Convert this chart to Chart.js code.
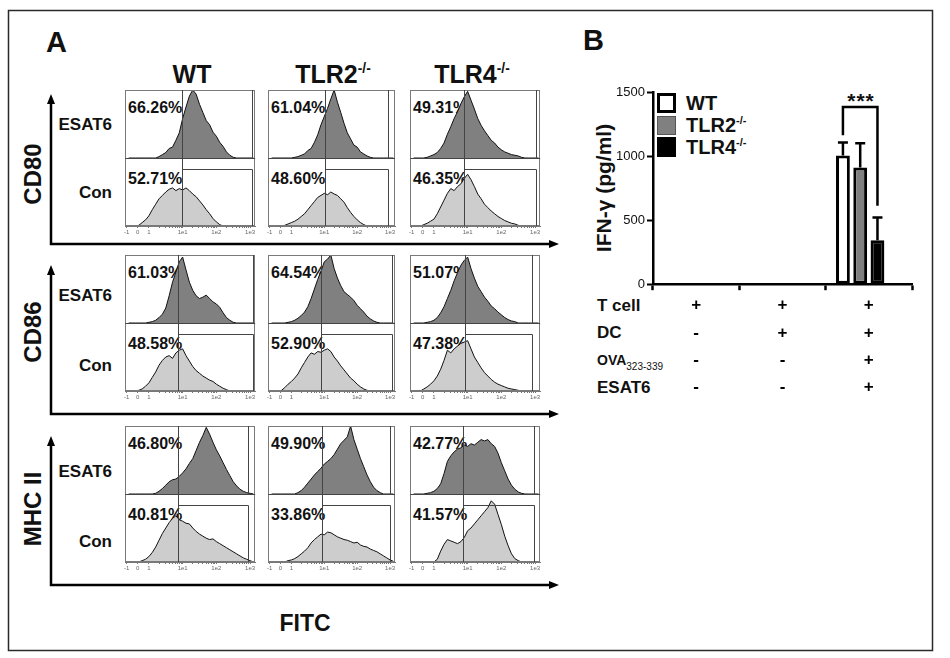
<!DOCTYPE html>
<html lang="en">
<head>
<meta charset="UTF-8">
<title>ESAT6 - DC markers and IFN-γ</title>
<script src="https://cdn.jsdelivr.net/npm/chart.js@4"></script>
<style>
  html, body { margin: 0; padding: 0; background: #fff; }
  body { width: 950px; height: 658px; position: relative; overflow: hidden; font-family: "Liberation Sans", Arial, Helvetica, sans-serif; color: #111; }
  .t { position: absolute; white-space: nowrap; font-weight: bold; line-height: 1; }
  .c { transform: translate(-50%, -50%); }
  .r { transform: translate(-100%, -50%); }
  .l { transform: translate(0, -50%); }
  .rot { transform: translate(-50%, -50%) rotate(-90deg); }
  .sup { font-size: 0.55em; position: relative; top: -0.75em; }
  .sub { font-size: 10px; font-weight: normal; position: relative; top: 0.45em; }
  canvas { position: absolute; }
  .box { position: absolute; box-sizing: border-box; }
  svg { position: absolute; left: 0; top: 0; }
</style>
</head>
<body>
<svg width="950" height="658">
  <rect x="8.5" y="10.5" width="924" height="640" fill="none" stroke="#2a2a2a" stroke-width="1.5"/>
  <g stroke="#000" stroke-width="2.5" fill="none">
    <polyline points="51,100 51,244 552,244"/>
    <polyline points="51,271 51,414 552,414"/>
    <polyline points="51,442 51,585 552,585"/>
  </g>
  <g fill="#000">
    <polygon points="51,94 47,104 55,104"/>
    <polygon points="559,244 549,240 549,248"/>
    <polygon points="51,265 47,275 55,275"/>
    <polygon points="559,414 549,410 549,418"/>
    <polygon points="51,436 47,446 55,446"/>
    <polygon points="559,585 549,581 549,589"/>
  </g>
</svg>

<!-- panel A text -->
<div class="t" style="left:46px; top:28px; font-size:29px;">A</div>
<div class="t c" style="left:192px; top:74px; font-size:25px;">WT</div>
<div class="t c" style="left:333px; top:74px; font-size:25px;">TLR2<span class="sup">-/-</span></div>
<div class="t c" style="left:472px; top:74px; font-size:25px;">TLR4<span class="sup">-/-</span></div>
<div class="t rot" style="left:33px; top:174px; font-size:24px;">CD80</div>
<div class="t rot" style="left:33px; top:332px; font-size:24px;">CD86</div>
<div class="t rot" style="left:33px; top:509px; font-size:24px;">MHC II</div>
<div class="t r" style="left:112px; top:124px; font-size:17px;">ESAT6</div>
<div class="t r" style="left:112px; top:192px; font-size:17px;">Con</div>
<div class="t r" style="left:112px; top:295px; font-size:17px;">ESAT6</div>
<div class="t r" style="left:112px; top:365px; font-size:17px;">Con</div>
<div class="t r" style="left:112px; top:471px; font-size:17px;">ESAT6</div>
<div class="t r" style="left:112px; top:541px; font-size:17px;">Con</div>
<div class="t c" style="left:305px; top:623px; font-size:23px;">FITC</div>
<div id="pct"></div>

<!-- panel B text -->
<div class="t" style="left:583px; top:26px; font-size:29px;">B</div>
<div class="t rot" style="left:603px; top:188px; font-size:21px;">IFN-γ (pg/ml)</div>
<div class="box" style="left:657px; top:93px; width:19px; height:20px; background:#fff; border:3px solid #000;"></div>
<div class="box" style="left:657px; top:116px; width:19px; height:19px; background:#808080; border:1px solid #555;"></div>
<div class="box" style="left:657px; top:137px; width:19px; height:20px; background:#000;"></div>
<div class="t l" style="left:686px; top:103px; font-size:20px;">WT</div>
<div class="t l" style="left:686px; top:125px; font-size:20px;">TLR2<span class="sup">-/-</span></div>
<div class="t l" style="left:686px; top:147px; font-size:20px;">TLR4<span class="sup">-/-</span></div>
<div class="t c" style="left:861px; top:100px; font-size:21px; letter-spacing:1px;">***</div>
<div class="t l" style="left:597px; top:305px; font-size:17px;">T cell</div>
<div class="t l" style="left:597px; top:332px; font-size:17px;">DC</div>
<div class="t l" style="left:597px; top:360px; font-size:14px;">OVA<span class="sub">323-339</span></div>
<div class="t l" style="left:597px; top:387px; font-size:17px;">ESAT6</div>

<canvas id="c0"></canvas><canvas id="c1"></canvas><canvas id="c2"></canvas>
<canvas id="c3"></canvas><canvas id="c4"></canvas><canvas id="c5"></canvas>
<canvas id="c6"></canvas><canvas id="c7"></canvas><canvas id="c8"></canvas>
<canvas id="bars"></canvas>

<script>
// FITC axis, in decades (0 = 1, 1 = 1e1 ...)
const fitcGrid = [-0.6, -0.5, -0.4, -0.3, -0.2, -0.1, 0, 0.1, 0.2, 0.3, 0.4, 0.5, 0.6, 0.7, 0.8, 0.9,
  1, 1.1, 1.2, 1.3, 1.4, 1.5, 1.6, 1.7, 1.8, 1.9, 2, 2.1, 2.2, 2.3, 2.4, 2.5, 2.6, 2.7, 2.8, 2.9, 3, 3.1];
const fitcMajor = [-0.66, -0.33, 0, 1, 2, 3];
const fitcMajorText = ['-1', '0', '1', '1e1', '1e2', '1e3'];

// histogram heights, % of the panel height
const cd80WtEsat   = [0,0,0,0,0,0,0,0,0,2,5,8,14,16,26,37,58,75,91,100,94,79,67,55,49,38,32,23,17,9,4,1,0,0,0,0,0,0];
const cd80WtCon    = [0,0,0,1,5,9,15,24,32,40,45,50,54,56,52,55,53,56,52,47,43,37,31,24,18,11,6,2,0,0,0,0,0,0,0,0,0,0];
const cd80Tlr2Esat = [0,0,0,0,0,0,0,1,2,4,6,11,14,23,34,49,61,73,87,100,82,67,51,37,28,19,16,9,6,3,1,0,0,0,0,0,0,0];
const cd80Tlr2Con  = [0,0,0,0,1,3,5,7,10,14,18,24,30,36,42,45,48,46,50,47,45,40,35,27,20,14,9,5,2,0,0,0,0,0,0,0,0,0];
const cd80Tlr4Esat = [0,0,0,0,1,3,5,8,14,22,35,46,58,68,80,90,98,85,72,58,48,40,33,26,22,16,12,9,7,5,4,3,1,0,0,0,0,0];
const cd80Tlr4Con  = [0,0,0,2,4,7,10,18,28,38,48,55,52,58,62,70,76,68,58,47,40,32,27,22,18,14,11,8,6,4,3,1,0,0,0,0,0,0];

const cd86WtEsat   = [0,0,0,0,0,0,1,2,4,8,13,22,40,60,75,90,97,78,60,48,40,36,38,41,36,31,28,23,15,8,4,1,0,0,0,0,0,0];
const cd86WtCon    = [0,0,0,1,3,7,12,20,28,38,45,50,52,48,56,60,62,52,44,36,30,26,22,19,16,14,10,7,4,2,0,0,0,0,0,0,0,0];
const cd86Tlr2Esat = [0,0,0,0,0,1,2,4,7,11,16,24,36,50,64,76,90,94,100,80,66,55,46,42,38,33,26,21,16,10,6,3,1,0,0,0,0,0];
const cd86Tlr2Con  = [0,0,0,1,5,10,14,19,25,34,42,50,56,54,58,57,60,62,58,50,44,37,31,25,19,15,10,6,3,1,0,0,0,0,0,0,0,0];
const cd86Tlr4Esat = [0,0,0,0,1,2,4,8,15,24,36,48,62,74,85,92,97,80,66,54,46,38,32,25,21,16,12,8,5,3,2,0,0,0,0,0,0,0];
const cd86Tlr4Con  = [0,0,0,3,6,10,15,22,32,45,60,56,62,66,70,72,74,62,50,42,34,27,22,17,13,10,8,6,4,3,2,1,0,0,0,0,0,0];

const mhcWtEsat    = [0,0,0,0,0,0,0,0,1,4,8,13,18,21,22,26,31,37,45,52,64,76,86,98,88,76,65,56,46,36,27,18,12,7,4,2,1,0];
const mhcWtCon     = [0,0,0,0,2,4,8,14,22,32,42,50,58,64,68,62,60,57,56,50,45,41,38,35,33,34,30,27,24,21,18,15,12,9,6,4,2,0];
const mhcTlr2Esat  = [0,0,0,0,0,0,0,0,2,5,10,16,22,28,33,38,44,48,52,58,66,74,79,84,100,80,66,52,40,28,18,10,5,2,0,0,0,0];
const mhcTlr2Con   = [0,0,0,0,0,2,3,5,8,12,16,21,28,33,37,41,40,44,43,40,37,35,33,32,30,28,29,25,23,22,19,17,15,12,9,6,3,1];
const mhcTlr4Esat  = [0,0,0,0,1,2,4,8,15,30,48,56,62,66,68,72,70,74,72,76,80,78,80,74,70,60,46,34,22,13,7,3,1,0,0,0,0,0];
const mhcTlr4Con   = [0,0,0,0,0,0,0,4,16,26,33,31,29,27,30,36,46,50,56,62,68,74,80,90,85,70,55,38,24,12,5,2,0,0,0,0,0,0];

const esatSeries = [cd80WtEsat, cd80Tlr2Esat, cd80Tlr4Esat, cd86WtEsat, cd86Tlr2Esat, cd86Tlr4Esat, mhcWtEsat, mhcTlr2Esat, mhcTlr4Esat];
const conSeries  = [cd80WtCon, cd80Tlr2Con, cd80Tlr4Con, cd86WtCon, cd86Tlr2Con, cd86Tlr4Con, mhcWtCon, mhcTlr2Con, mhcTlr4Con];
const pctEsat = ['66.26%', '61.04%', '49.31%', '61.03%', '64.54%', '51.07%', '46.80%', '49.90%', '42.77%'];
const pctCon  = ['52.71%', '48.60%', '46.35%', '48.58%', '52.90%', '47.38%', '40.81%', '33.86%', '41.57%'];
// gate markers (decades)
const gateLo = [0.99, 1.01, 0.89, 0.85, 0.89, 0.92, 0.85, 0.94, 0.87];
const gateHi = [3.07, 2.94, 3.02, 3.10, 3.05, 2.90, 2.95, 3.00, 2.97];

// panel B
const tCellRow = ['+', '+', '+'];
const dcRow    = ['-', '+', '+'];
const ovaRow   = ['-', '-', '+'];
const esatRow  = ['-', '-', '+'];
const wtIfn    = [null, null, 1005];
const tlr2Ifn  = [null, null, 910];
const tlr4Ifn  = [null, null, 343];
const wtErr    = [0, 0, 100];
const tlr2Err  = [0, 0, 190];
const tlr4Err  = [0, 0, 177];
const sigLevels = [1162, 1382, 613]; // WT end, bracket top, TLR4 end

// layout
const rowTop = [90, 255, 426];
const colLeft = [123, 266, 408];
const colWidth = [133, 130, 133];
const panelH = 68;

Chart.defaults.font.family = "'Liberation Sans', Arial, sans-serif";

const minorTicks = [];
[0, 1, 2].forEach((d) => {
  for (let m = 2; m <= 9; m++) minorTicks.push(d + Math.log10(m));
});
const allTicks = fitcMajor.concat(minorTicks).sort((a, b) => a - b);

const cellFrame = {
  id: 'cellFrame',
  afterDatasetsDraw(chart, args, opts) {
    const { ctx, chartArea: a, scales: { x, yCon } } = chart;
    const px = (v) => Math.round(x.getPixelForValue(v)) + 0.5;
    const py = (v) => Math.round(yCon.getPixelForValue(v)) + 0.5;
    const mid = py(100), mark = py(opts.mark);
    const lo = px(opts.lo), hi = px(opts.hi);
    ctx.save();
    ctx.lineWidth = 1;
    ctx.strokeStyle = '#7a7a7a';
    ctx.strokeRect(Math.round(a.left) + 0.5, Math.round(a.top) + 0.5, Math.round(a.width) - 1, Math.round(a.height) - 1);
    ctx.strokeStyle = '#444';
    ctx.beginPath();
    ctx.moveTo(a.left, mid); ctx.lineTo(a.right, mid);
    ctx.moveTo(lo, a.top); ctx.lineTo(lo, a.bottom);
    ctx.moveTo(hi, a.top); ctx.lineTo(hi, mid);
    ctx.moveTo(lo, mark); ctx.lineTo(hi, mark); ctx.lineTo(hi, a.bottom);
    ctx.stroke();
    ctx.restore();
  }
};

esatSeries.forEach((esat, i) => {
  const row = Math.floor(i / 3), col = i % 3;
  const cv = document.getElementById('c' + i);
  cv.width = colWidth[col];
  cv.height = panelH * 2 + 12;
  cv.style.left = colLeft[col] + 'px';
  cv.style.top = rowTop[row] + 'px';
  new Chart(cv, {
    type: 'line',
    data: {
      datasets: [
        {
          data: fitcGrid.map((u, k) => ({ x: u, y: esat[k] })),
          yAxisID: 'yEsat', fill: 'origin',
          backgroundColor: '#808080', borderColor: '#111', borderWidth: 1, pointRadius: 0, tension: 0
        },
        {
          data: fitcGrid.map((u, k) => ({ x: u, y: conSeries[i][k] })),
          yAxisID: 'yCon', fill: 'origin',
          backgroundColor: '#cdcdcd', borderColor: '#111', borderWidth: 1, pointRadius: 0, tension: 0
        }
      ]
    },
    options: {
      responsive: false, animation: false,
      layout: { padding: 0 },
      plugins: {
        legend: { display: false }, tooltip: { enabled: false },
        cellFrame: { lo: gateLo[i], hi: gateHi[i], mark: 84 }
      },
      scales: {
        x: {
          type: 'linear', min: -0.7, max: 3.15,
          afterBuildTicks: (s) => { s.ticks = allTicks.map((v) => ({ value: v })); },
          afterFit: (s) => { s.height = 12; },
          grid: { drawOnChartArea: false, tickLength: 2, color: '#777' },
          border: { display: true, color: '#777' },
          ticks: {
            autoSkip: false, maxRotation: 0, padding: 1, color: '#666',
            font: { size: 6 },
            callback: (v) => { const k = fitcMajor.indexOf(v); return k < 0 ? '' : fitcMajorText[k]; }
          }
        },
        yEsat: { type: 'linear', min: -100, max: 100, display: false },
        yCon: { type: 'linear', min: 0, max: 200, display: false }
      }
    },
    plugins: [cellFrame]
  });

  const pct = document.getElementById('pct');
  pct.insertAdjacentHTML('beforeend',
    `<div class="t l" style="left:${colLeft[col] + 5}px; top:${rowTop[row] + 18}px; font-size:16px;">${pctEsat[i]}</div>` +
    `<div class="t l" style="left:${colLeft[col] + 5}px; top:${rowTop[row] + panelH + 21}px; font-size:16px;">${pctCon[i]}</div>`);
});

// panel B bar chart
const errBars = {
  id: 'errBars',
  afterDatasetsDraw(chart) {
    const { ctx, scales: { y } } = chart;
    const errs = [wtErr, tlr2Err, tlr4Err];
    ctx.save();
    ctx.strokeStyle = '#000';
    ctx.lineWidth = 2.5;
    errs.forEach((e, d) => {
      chart.getDatasetMeta(d).data.forEach((bar, k) => {
        const v = chart.data.datasets[d].data[k];
        if (v == null) return;
        const top = y.getPixelForValue(v + e[k]);
        ctx.beginPath();
        ctx.moveTo(bar.x, bar.y); ctx.lineTo(bar.x, top);
        ctx.moveTo(bar.x - 5, top); ctx.lineTo(bar.x + 5, top);
        ctx.stroke();
      });
    });
    // significance bracket WT vs TLR4
    const left = chart.getDatasetMeta(0).data[2].x;
    const right = chart.getDatasetMeta(2).data[2].x;
    ctx.beginPath();
    ctx.moveTo(left, y.getPixelForValue(sigLevels[0]));
    ctx.lineTo(left, y.getPixelForValue(sigLevels[1]));
    ctx.lineTo(right, y.getPixelForValue(sigLevels[1]));
    ctx.lineTo(right, y.getPixelForValue(sigLevels[2]));
    ctx.stroke();
    ctx.restore();
  }
};

const barCv = document.getElementById('bars');
barCv.width = 310;
barCv.height = 323;
barCv.style.left = '608px';
barCv.style.top = '80px';
const barStyle = { borderColor: '#000', borderWidth: 3, borderSkipped: false, categoryPercentage: 0.8, barPercentage: 0.8 };
new Chart(barCv, {
  type: 'bar',
  data: {
    labels: tCellRow.map((t, k) => [t, dcRow[k], ovaRow[k], esatRow[k]]),
    datasets: [
      { label: 'WT', data: wtIfn, backgroundColor: '#fff', ...barStyle },
      { label: 'TLR2-/-', data: tlr2Ifn, backgroundColor: '#808080', ...barStyle },
      { label: 'TLR4-/-', data: tlr4Ifn, backgroundColor: '#000', ...barStyle },
      { label: '', data: [null, null, null], ...barStyle } // empty slot, keeps the group left of the tick
    ]
  },
  options: {
    responsive: false, animation: false,
    layout: { padding: { top: 12, right: 6, left: 0, bottom: 0 } },
    plugins: { legend: { display: false }, tooltip: { enabled: false } },
    scales: {
      x: {
        grid: { drawOnChartArea: false, tickLength: 6, tickWidth: 2.5, tickColor: '#000' },
        border: { color: '#000', width: 2.5 },
        ticks: { color: '#000', padding: 2, font: { size: 17, weight: 'bold', lineHeight: 1.6 } }
      },
      y: {
        min: 0, max: 1500,
        afterFit: (s) => { s.width = 45; },
        grid: { drawOnChartArea: false, tickLength: 6, tickWidth: 2, tickColor: '#000' },
        border: { color: '#000', width: 2.5 },
        ticks: {
          stepSize: 500, color: '#111', padding: 2,
          font: { size: 13, family: "'Liberation Sans Narrow', 'Liberation Sans', Arial, sans-serif" },
          callback: (v) => String(v)
        }
      }
    }
  },
  plugins: [errBars]
});
</script>
</body>
</html>
